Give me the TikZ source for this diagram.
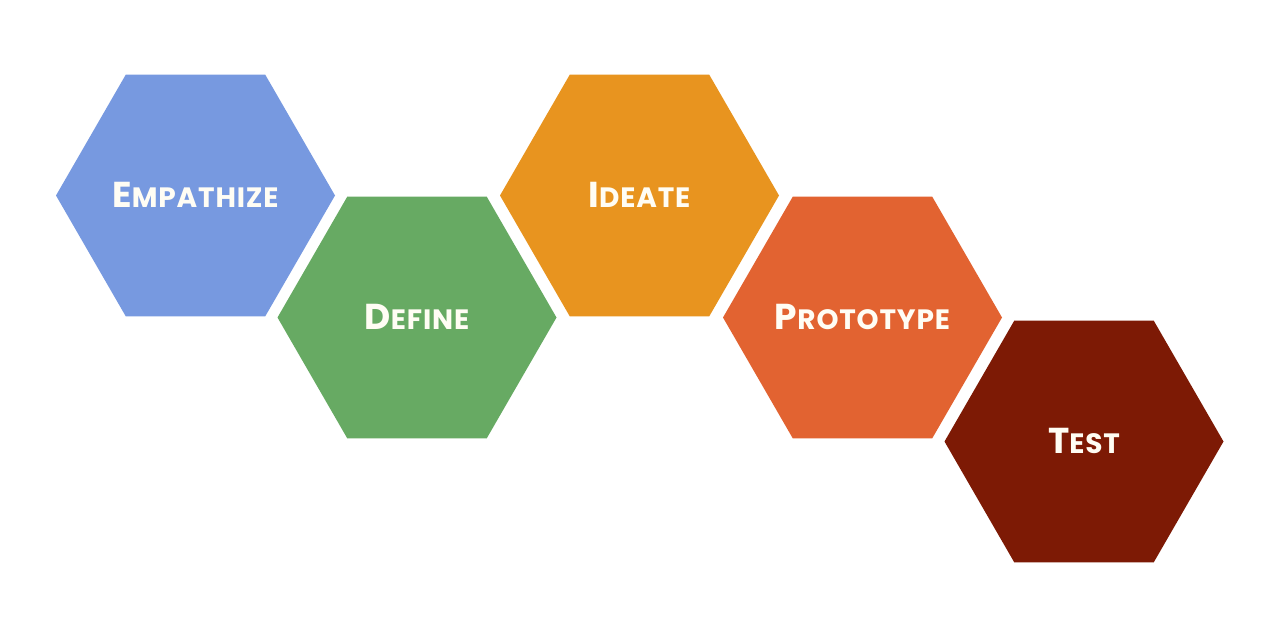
\documentclass[tikz,border=0pt]{standalone}
\usepackage{fontspec}
\setmainfont{Poppins}[LetterSpace=3]
\usetikzlibrary{shapes.geometric}
\definecolor{cEmp}{HTML}{7799E0}
\definecolor{cDef}{HTML}{67AA63}
\definecolor{cIde}{HTML}{E8941F}
\definecolor{cPro}{HTML}{E26331}
\definecolor{cTst}{HTML}{7D1A05}
\definecolor{cTxt}{HTML}{FFFDF4}
\newcommand{\hexlabel}[2]{\makebox[0pt][c]{\raisebox{2pt}{{\fontsize{36}{36}\selectfont #1}{\fontsize{28}{28}\selectfont #2}}}}
\tikzset{
  hexnode/.style={shape=regular polygon, regular polygon sides=6,
    minimum size=279pt, inner sep=0pt, outer sep=0pt, draw=none,
    text=cTxt, font=\bfseries}
}
\begin{document}
\begin{tikzpicture}[x=1pt,y=-1pt]
\useasboundingbox[fill=white] (0,0) rectangle (1280,638);
\node[hexnode, fill=cEmp] (emp) at (195.5,195.5) {\hexlabel{E}{MPATHIZE}};
\node[hexnode, fill=cDef] (def) at (417,317.5) {\hexlabel{D}{EFINE}};
\node[hexnode, fill=cIde] (ide) at (639.5,195.5) {\hexlabel{I}{DEATE}};
\node[hexnode, fill=cPro] (pro) at (862.5,317.5) {\hexlabel{P}{ROTOTYPE}};
\node[hexnode, fill=cTst] (tst) at (1084,441.5) {\hexlabel{T}{EST}};
\end{tikzpicture}
\end{document}
